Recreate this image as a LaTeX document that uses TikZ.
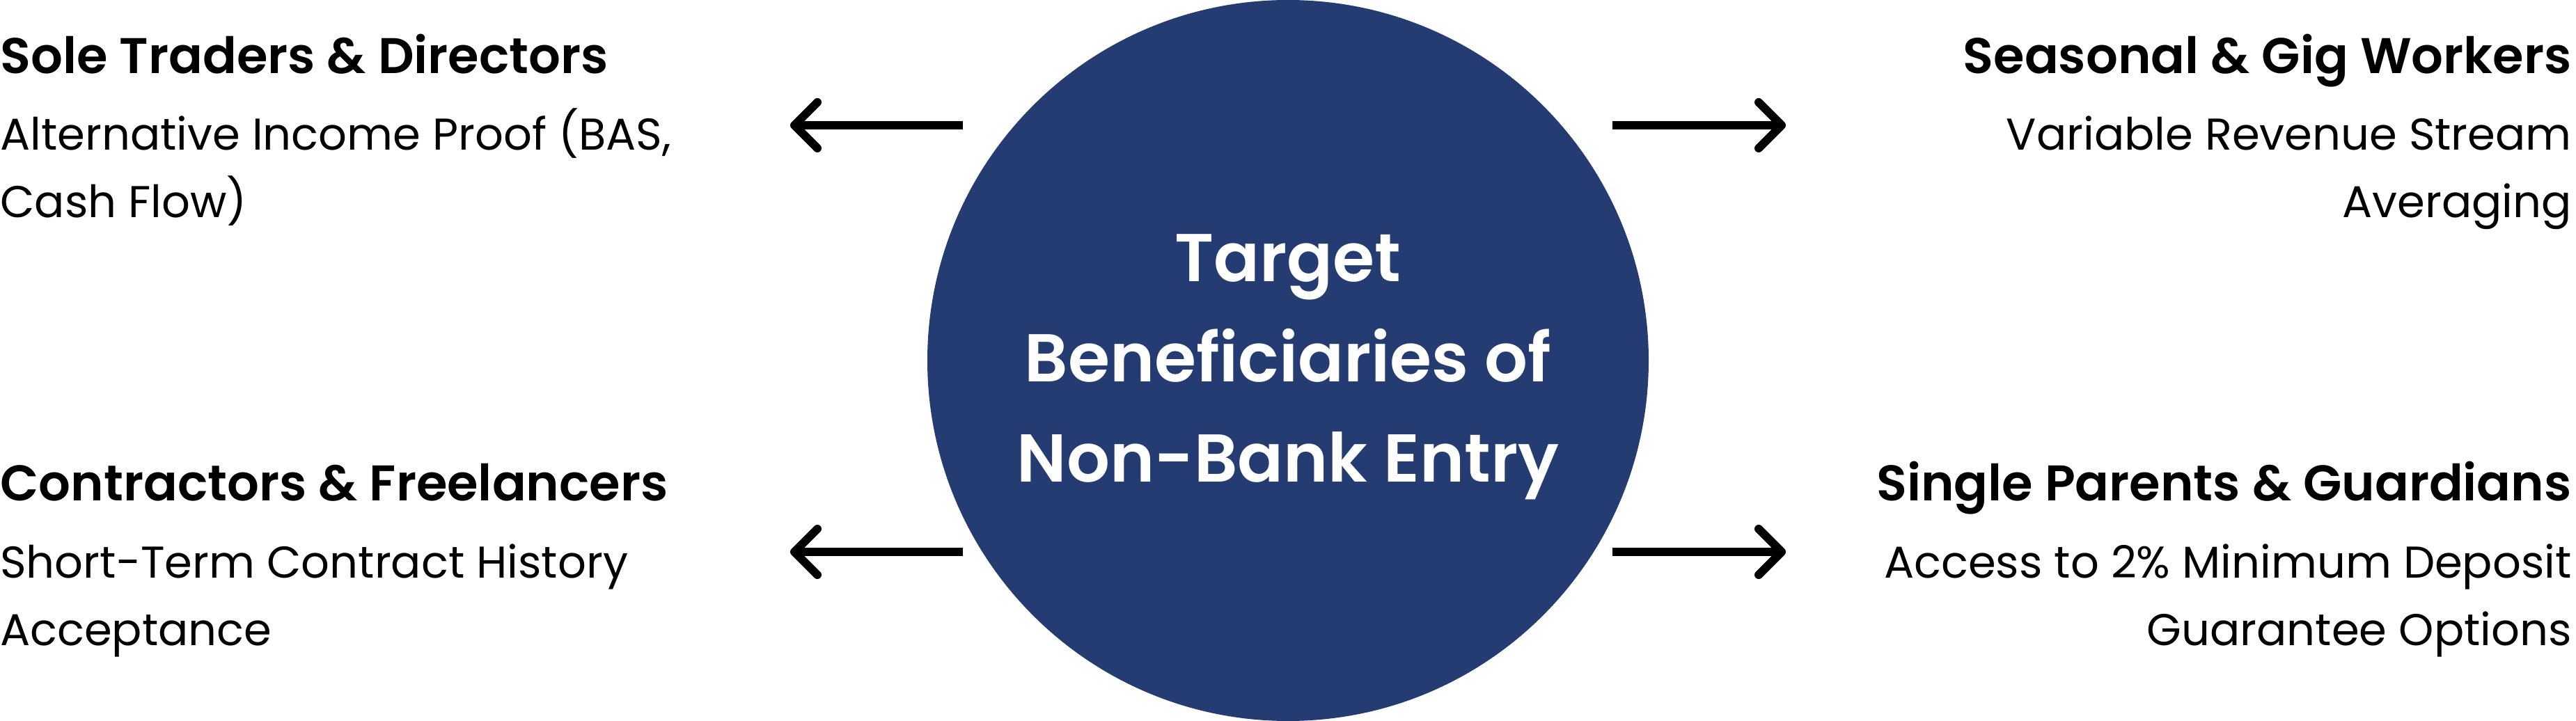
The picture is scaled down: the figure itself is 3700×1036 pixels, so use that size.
\documentclass[tikz,border=0pt]{standalone}
\usepackage{fontspec}
\setmainfont{Poppins}
\newfontfamily\semib{Poppins SemiBold}
\definecolor{navy}{RGB}{37,60,115}
\begin{document}
\begin{tikzpicture}[x=0.5pt,y=-0.5pt,
  headtxt/.style={font=\semib\fontsize{36}{48}\selectfont, inner sep=0},
  bodytxt/.style={font=\fontsize{32}{48}\selectfont, inner sep=0},
  ctrtxt/.style={font=\semib\fontsize{48.6}{72}\selectfont, text=white, inner sep=0, anchor=base},
  shaft/.style={line width=6pt, line cap=butt},
  tiphead/.style={line width=6pt, line cap=round, line join=round}]
\useasboundingbox (0,0) rectangle (3700,1036);
\node[circle, fill=navy, minimum size=518pt, inner sep=0] (c) at (1850,518) {};
\node[ctrtxt] (t1) at (1850,405) {Target};
\node[ctrtxt] (t2) at (1850,549) {Beneficiaries of};
\node[ctrtxt] (t3) at (1850,693) {Non-Bank Entry};
% left top
\node[headtxt, anchor=base west] (h1) at (0,106) {Sole Traders \& Directors};
\node[bodytxt, anchor=base west] (b1a) at (0,216) {Alternative Income Proof (BAS,};
\node[bodytxt, anchor=base west] (b1b) at (0,313) {Cash Flow)};
% right top
\node[headtxt, anchor=base east] (h2) at (3694,106) {Seasonal \& Gig Workers};
\node[bodytxt, anchor=base east] (b2a) at (3694,216) {Variable Revenue Stream};
\node[bodytxt, anchor=base east] (b2b) at (3694,313) {Averaging};
% left bottom
\node[headtxt, anchor=base west] (h3) at (0,720) {Contractors \& Freelancers};
\node[bodytxt, anchor=base west] (b3a) at (0,830) {Short-Term Contract History};
\node[bodytxt, anchor=base west] (b3b) at (0,927) {Acceptance};
% right bottom
\node[headtxt, anchor=base east] (h4) at (3694,720) {Single Parents \& Guardians};
\node[bodytxt, anchor=base east] (b4a) at (3694,830) {Access to 2\% Minimum Deposit};
\node[bodytxt, anchor=base east] (b4b) at (3694,927) {Guarantee Options};
% arrows
\coordinate (a1s) at (1383,180); \coordinate (a1e) at (1141,180);
\coordinate (a2s) at (2316,180); \coordinate (a2e) at (2559,180);
\coordinate (a3s) at (1383,793); \coordinate (a3e) at (1141,793);
\coordinate (a4s) at (2316,793); \coordinate (a4e) at (2559,793);
\draw[shaft] (a1s) -- (a1e);
\draw[tiphead] ([shift={(33,-33)}]a1e) -- (a1e) -- ([shift={(33,33)}]a1e);
\draw[shaft] (a2s) -- (a2e);
\draw[tiphead] ([shift={(-33,-33)}]a2e) -- (a2e) -- ([shift={(-33,33)}]a2e);
\draw[shaft] (a3s) -- (a3e);
\draw[tiphead] ([shift={(33,-33)}]a3e) -- (a3e) -- ([shift={(33,33)}]a3e);
\draw[shaft] (a4s) -- (a4e);
\draw[tiphead] ([shift={(-33,-33)}]a4e) -- (a4e) -- ([shift={(-33,33)}]a4e);
\end{tikzpicture}
\end{document}
